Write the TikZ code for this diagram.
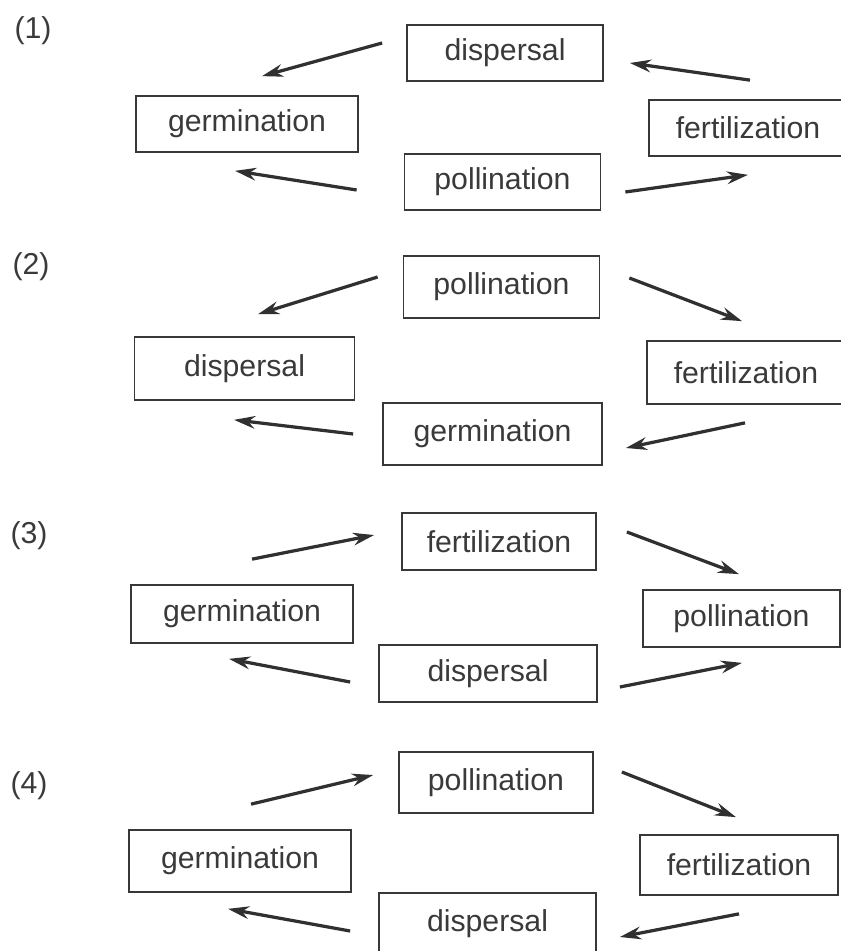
\documentclass[tikz,border=0pt]{standalone}
\usepackage{fontspec}
\usepackage{xcolor}
\usepackage{tikz}
\usetikzlibrary{
  arrows.meta,
  positioning,
  calc
}
\newfontfamily\stagefont{Liberation Sans}
\definecolor{InkGray}{RGB}{48,48,48}
\definecolor{TextGray}{RGB}{58,58,58}
\definecolor{LineGray}{RGB}{56,56,56}
\tikzset{
  %%── 阶段方框（宽、高逐个给出）──────────────────────────
  stagebox/.style 2 args = {
    rectangle, draw = LineGray, line width = 1.2pt, fill = white,
    text = TextGray, inner sep = 0pt,
    minimum width = #1, minimum height = #2,
    font = \stagefont\fontsize{21.5pt}{25pt}\selectfont
  },
  %%── 题号 ───────────────────────────────────────────────
  qnum/.style = {
    text = TextGray, inner sep = 0pt,
    font = \stagefont\fontsize{21.5pt}{25pt}\selectfont
  },
  %%── 箭头 ───────────────────────────────────────────────
  arr/.style = {-{Stealth[length = 15pt, width = 9pt]}, line width = 2.3pt, color = InkGray},
}

\begin{document}
\begin{tikzpicture}[x = 0.025cm, y = -0.025cm]

  \useasboundingbox[fill = white] (0,0) rectangle (840,951);

  %% ── (1) ─────────────────────────────────────────────────
  \node[qnum] (n1) at (33,31) {(1)};
  \node[stagebox = {4.9cm}{1.4cm}]   (d1) at (505,53)    {dispersal};
  \node[stagebox = {5.55cm}{1.4cm}]  (g1) at (247,124)   {germination};
  \node[stagebox = {4.95cm}{1.4cm}]  (f1) at (748,128)   {fertilization};
  \node[stagebox = {4.9cm}{1.4cm}]   (p1) at (502.5,182) {pollination};

  \draw[arr] ([shift = {(-24,-10)}]d1.west) -- ([shift = {(15,-19)}]g1.north);
  \draw[arr] ([shift = {(2,-19)}]f1.north)  -- ([shift = {(26,10)}]d1.east);
  \draw[arr] ([shift = {(-47,8)}]p1.west)   -- ([shift = {(-12,18)}]g1.south);
  \draw[arr] ([shift = {(24,10)}]p1.east)   -- ([shift = {(0,18)}]f1.south);

  %% ── (2) ─────────────────────────────────────────────────
  \node[qnum] (n2) at (31,267) {(2)};
  \node[stagebox = {4.9cm}{1.55cm}]   (p2) at (501.5,287)   {pollination};
  \node[stagebox = {5.5cm}{1.575cm}]  (s2) at (244.5,368.5) {dispersal};
  \node[stagebox = {4.95cm}{1.575cm}] (f2) at (746,372.5)   {fertilization};
  \node[stagebox = {5.475cm}{1.55cm}] (g2) at (492.5,434)   {germination};

  \draw[arr] ([shift = {(-25,-10)}]p2.west) -- ([shift = {(13.5,-22)}]s2.north);
  \draw[arr] ([shift = {(29,-9)}]p2.east)   -- ([shift = {(-4,-19)}]f2.north);
  \draw[arr] ([shift = {(-1,18)}]f2.south)  -- ([shift = {(23,14)}]g2.east);
  \draw[arr] ([shift = {(-29,0)}]g2.west)   -- ([shift = {(-10.5,19)}]s2.south);

  %% ── (3) ─────────────────────────────────────────────────
  \node[qnum] (n3) at (29,536) {(3)};
  \node[stagebox = {4.85cm}{1.425cm}]  (f3) at (499,541.5)   {fertilization};
  \node[stagebox = {5.55cm}{1.45cm}]   (g3) at (242,614)     {germination};
  \node[stagebox = {4.925cm}{1.425cm}] (p3) at (741.5,618.5) {pollination};
  \node[stagebox = {5.45cm}{1.425cm}]  (d3) at (488,673.5)   {dispersal};

  \draw[arr] ([shift = {(10,-25)}]g3.north) -- ([shift = {(-27,-6.5)}]f3.west);
  \draw[arr] ([shift = {(30,-9.5)}]f3.east) -- ([shift = {(-2.5,-15)}]p3.north);
  \draw[arr] ([shift = {(-28,8.5)}]d3.west) -- ([shift = {(-13,15)}]g3.south);
  \draw[arr] ([shift = {(22,13.5)}]d3.east) -- ([shift = {(0.5,15)}]p3.south);

  %% ── (4) ─────────────────────────────────────────────────
  \node[qnum] (n4) at (29,786) {(4)};
  \node[stagebox = {4.85cm}{1.525cm}]  (p4) at (496,782.5)   {pollination};
  \node[stagebox = {5.55cm}{1.55cm}]   (g4) at (240,861)     {germination};
  \node[stagebox = {4.95cm}{1.5cm}]    (f4) at (739,865)     {fertilization};
  \node[stagebox = {5.425cm}{1.525cm}] (d4) at (487.5,923.5) {dispersal};

  \draw[arr] ([shift = {(11,-25)}]g4.north)  -- ([shift = {(-25,-7.5)}]p4.west);
  \draw[arr] ([shift = {(28,-10.5)}]p4.east) -- ([shift = {(-3,-17)}]f4.north);
  \draw[arr] ([shift = {(0,18)}]f4.south)    -- ([shift = {(23,13.5)}]d4.east);
  \draw[arr] ([shift = {(-28,7.5)}]d4.west)  -- ([shift = {(-12,16)}]g4.south);

\end{tikzpicture}
\end{document}
